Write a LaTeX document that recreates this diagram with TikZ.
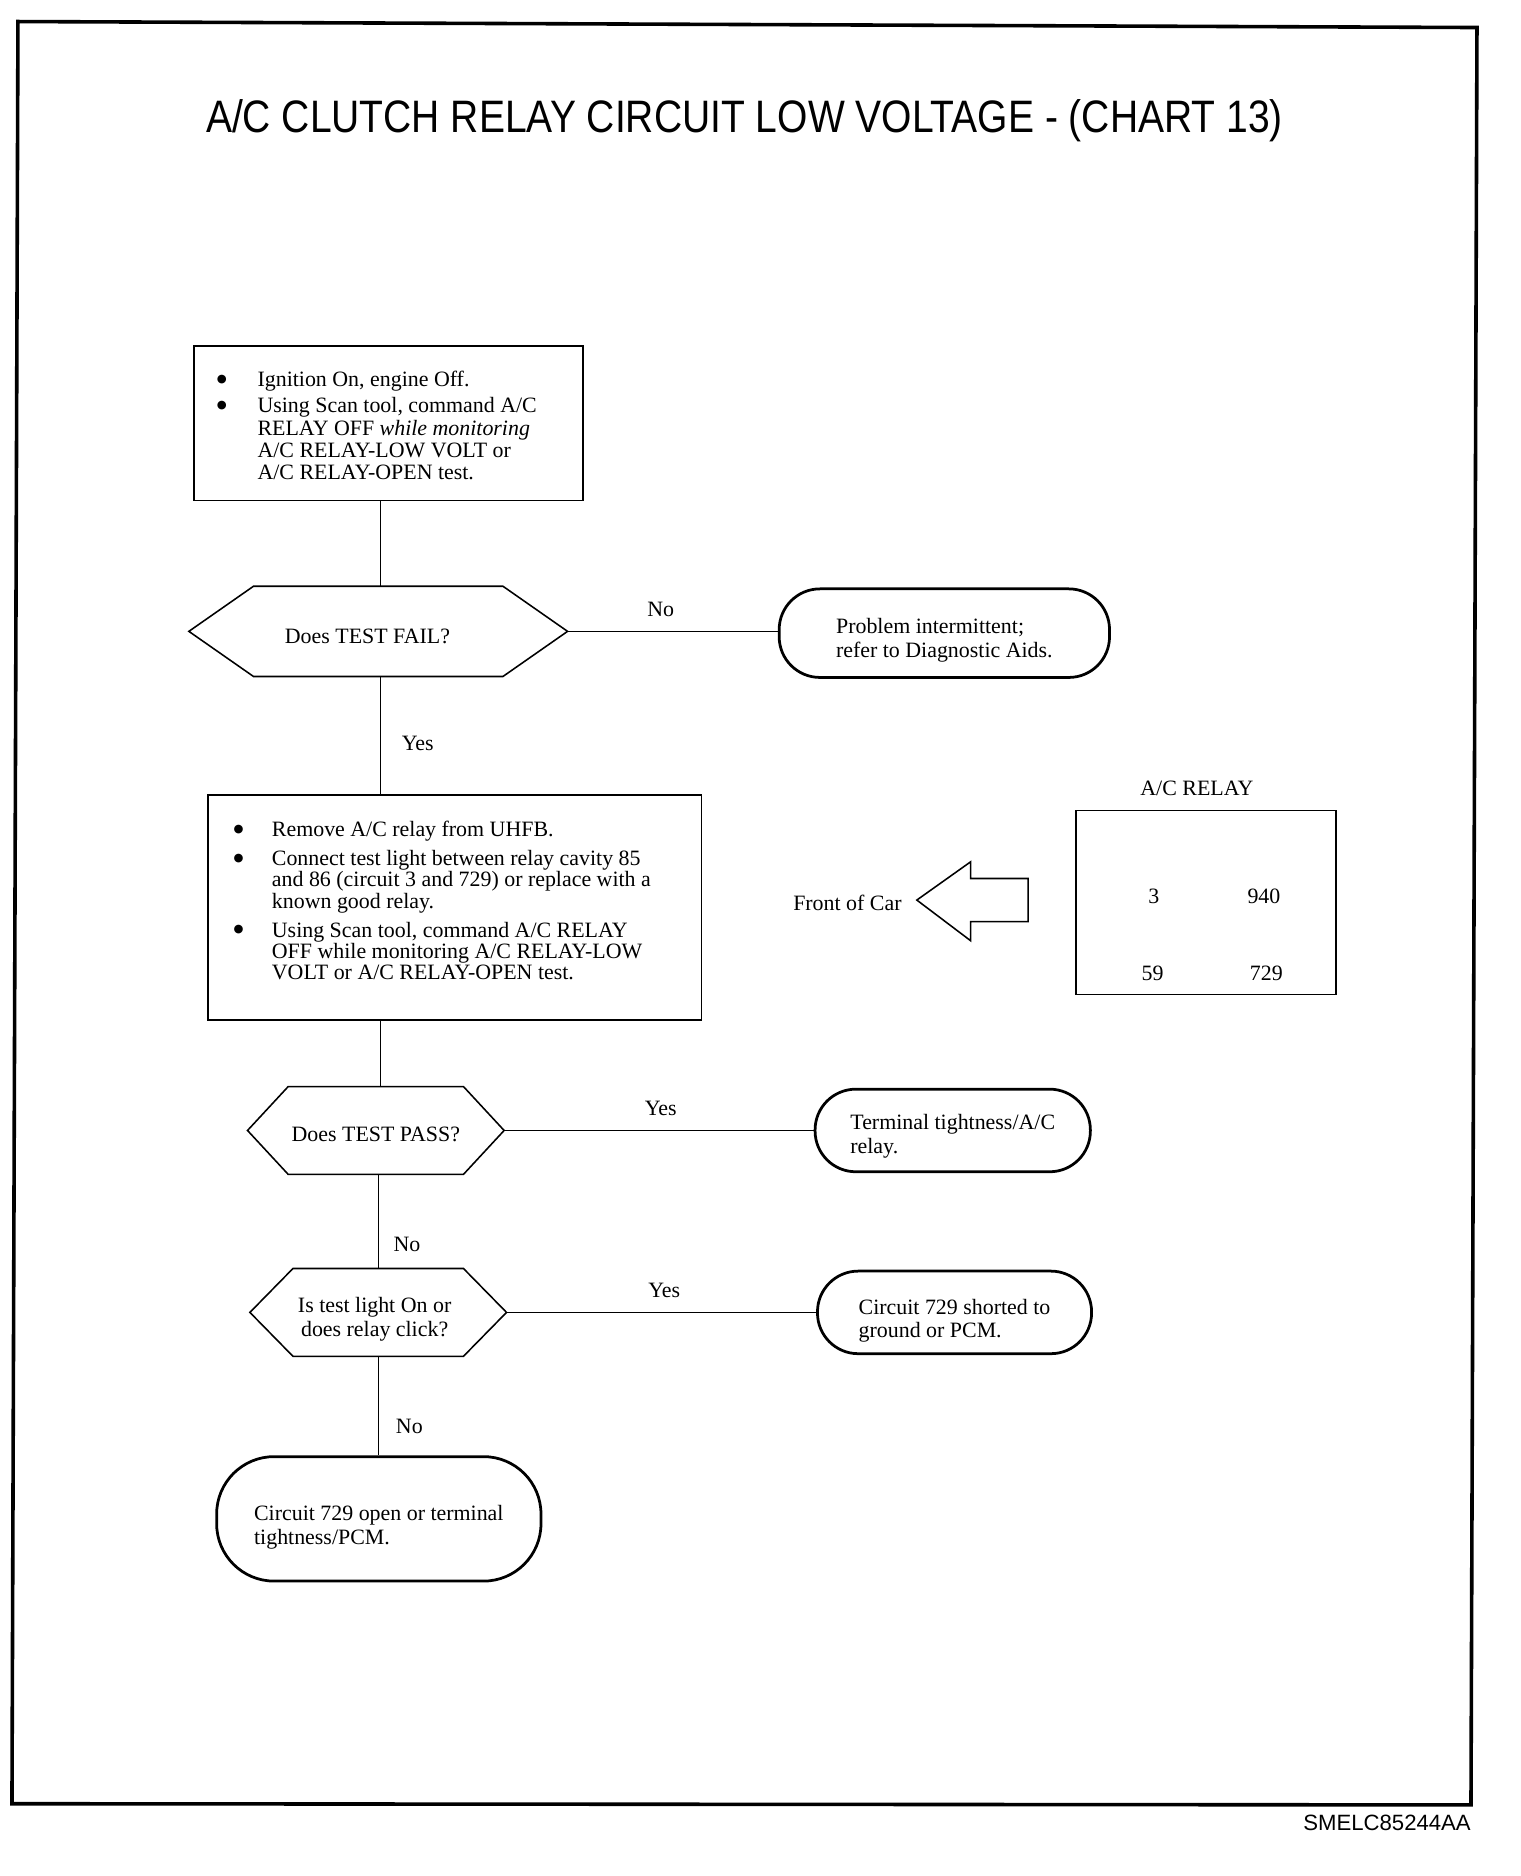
\documentclass[tikz,border=0pt]{standalone}
\usepackage{fontspec}
\setmainfont{Liberation Serif}
\newfontfamily\arialf{Liberation Sans}
\newfontfamily\djvf{DejaVu Sans}
\usepackage{array}
\newcommand\bodyfont{\fontsize{18.3}{20}\selectfont}
\newcommand\listfont{\fontsize{18.3}{18.5}\selectfont}
\newcommand\listfontb{\fontsize{18.3}{17.6}\selectfont}
\newcommand\bul{\raisebox{3.5pt}{\djvf\fontsize{9.5}{9.5}\selectfont ●}}
\tikzset{
  box/.style={draw, line width=1.3pt, inner sep=0pt},
  term/.style={draw, line width=2.3pt, rounded corners=34pt, inner sep=0pt},
  hexn/.style={inner sep=0pt},
  hexline/.style={line width=1.3pt, line join=miter},
  conn/.style={line width=1.2pt},
  lbl/.style={font=\bodyfont, inner sep=0pt},
  intext/.style={font=\bodyfont, inner sep=0pt, align=left},
  frame/.style={line width=3pt, line join=miter}
}
\begin{document}
\begin{tikzpicture}[x=1pt, y=-1pt]
\useasboundingbox (0,0) rectangle (1270,1567.4);
% frame
\draw[frame] (15,18) -- (1234,23) -- (1229,1508) -- (10,1507) -- cycle;
% title
\node[inner sep=0pt, font=\arialf\fontsize{38}{40}\selectfont] (title) at (622,101) {\scalebox{0.858}[1]{A/C CLUTCH RELAY CIRCUIT LOW VOLTAGE - (CHART 13)}};
\node[inner sep=0pt, font=\arialf\fontsize{18.5}{20}\selectfont, anchor=east] (code) at (1229,1523) {SMELC85244AA};

\coordinate (cx) at (318,0);
\coordinate (cy) at (316,0);

% box 1
\node[box, minimum width=325pt, minimum height=129pt] (b1) at (324.5,353.5) {};
\node[anchor=base west, inner sep=0pt, font=\listfont] (b1t) at (181,323) {%
\begin{tabular}[t]{@{}p{34pt}@{}l@{}}
\bul & Ignition On, engine Off.\\[3.5pt]
\bul & Using Scan tool, command A/C\\
 & RELAY OFF \textit{while monitoring}\\
 & A/C RELAY-LOW VOLT or\\
 & A/C RELAY-OPEN test.
\end{tabular}};

% hexagon 1
\node[hexn, minimum width=316pt, minimum height=75pt] (q1) at (316,527.5) {};
\draw[hexline] (q1.west) -- ([xshift=54pt]q1.north west) -- ([xshift=-54pt]q1.north east) -- (q1.east) -- ([xshift=-54pt]q1.south east) -- ([xshift=54pt]q1.south west) -- cycle;
\node[intext] (q1t) at ([xshift=-9pt,yshift=-4pt]q1.center) {Does TEST FAIL?};

% terminal 1
\node[term, minimum width=276pt, minimum height=74pt] (t1) at (789,529) {};
\node[intext] (t1t) at ([yshift=-6pt]t1.center) {Problem intermittent;\\refer to Diagnostic Aids.};

% box 2
\node[box, minimum width=412pt, minimum height=188pt] (b2) at (380,758) {};
\node[anchor=base west, inner sep=0pt, font=\listfontb] (b2t) at (195,699) {%
\begin{tabular}[t]{@{}p{32pt}@{}l@{}}
\bul & Remove A/C relay from UHFB.\\[6pt]
\bul & Connect test light between relay cavity 85\\
 & and 86 (circuit 3 and 729) or replace with a\\
 & known good relay.\\[6pt]
\bul & Using Scan tool, command A/C RELAY\\
 & OFF while monitoring A/C RELAY-LOW\\
 & VOLT or A/C RELAY-OPEN test.
\end{tabular}};

% relay diagram
\node[lbl] (rl) at (1000,659) {A/C RELAY};
\node[box, minimum width=217pt, minimum height=154pt] (r) at (1007.5,754) {};
\node[lbl] (p3) at (964,749) {3};
\node[lbl] (p940) at (1056,749) {940};
\node[lbl] (p59) at (963,813) {59};
\node[lbl] (p729) at (1058,813) {729};
\node[lbl] (front) at (708,754) {Front of Car};
\draw[line width=1.3pt, line join=miter] (766,752) -- (811,720) -- (811,734) -- (859,734) -- (859,770) -- (811,770) -- (811,786) -- cycle;

% hexagon 2
\node[hexn, minimum width=214pt, minimum height=73pt] (q2) at (314,944.5) {};
\draw[hexline] (q2.west) -- ([xshift=34pt]q2.north west) -- ([xshift=-34pt]q2.north east) -- (q2.east) -- ([xshift=-34pt]q2.south east) -- ([xshift=34pt]q2.south west) -- cycle;
\node[intext] (q2t) at ([yshift=-3pt]q2.center) {Does TEST PASS?};

% terminal 2
\node[term, minimum width=230pt, minimum height=69pt] (t2) at (796,944.5) {};
\node[intext] (t2t) at ([yshift=-5pt]t2.center) {Terminal tightness/A/C\\relay.};

% hexagon 3
\node[hexn, minimum width=214pt, minimum height=73pt] (q3) at (316,1096.5) {};
\draw[hexline] (q3.west) -- ([xshift=36pt]q3.north west) -- ([xshift=-36pt]q3.north east) -- (q3.east) -- ([xshift=-36pt]q3.south east) -- ([xshift=36pt]q3.south west) -- cycle;
\node[intext, align=center] (q3t) at ([xshift=-3pt,yshift=-6pt]q3.center) {Is test light On or\\does relay click?};

% terminal 3
\node[term, minimum width=229pt, minimum height=69pt] (t3) at (797.5,1096.5) {};
\node[intext] (t3t) at ([yshift=-7pt]t3.center) {Circuit 729 shorted to\\ground or PCM.};

% terminal 4
\node[term, rounded corners=48pt, minimum width=271pt, minimum height=104pt] (t4) at (316.5,1269) {};
\node[intext] (t4t) at ([yshift=-7pt]t4.center) {Circuit 729 open or terminal\\tightness/PCM.};

% connectors
\draw[conn] (b1.south -| cx) -- (q1.north -| cx);
\draw[conn] (q1.east) -- (q1.east -| t1.west);
\draw[conn] (q1.south -| cx) -- (b2.north -| cx);
\draw[conn] (b2.south -| cx) -- (q2.north -| cx);
\draw[conn] (q2.east) -- (q2.east -| t2.west);
\draw[conn] (q2.south -| cy) -- (q3.north -| cy);
\draw[conn] (q3.east) -- (q3.east -| t3.west);
\draw[conn] (q3.south -| cy) -- (t4.north -| cy);

% connector labels
\node[lbl] (l1) at (552,509.5) {No};
\node[lbl] (l2) at (349,621.5) {Yes};
\node[lbl] (l3) at (552,926.5) {Yes};
\node[lbl] (l4) at (340,1039.5) {No};
\node[lbl] (l5) at (555,1078.5) {Yes};
\node[lbl] (l6) at (342,1191.5) {No};
\end{tikzpicture}
\end{document}
